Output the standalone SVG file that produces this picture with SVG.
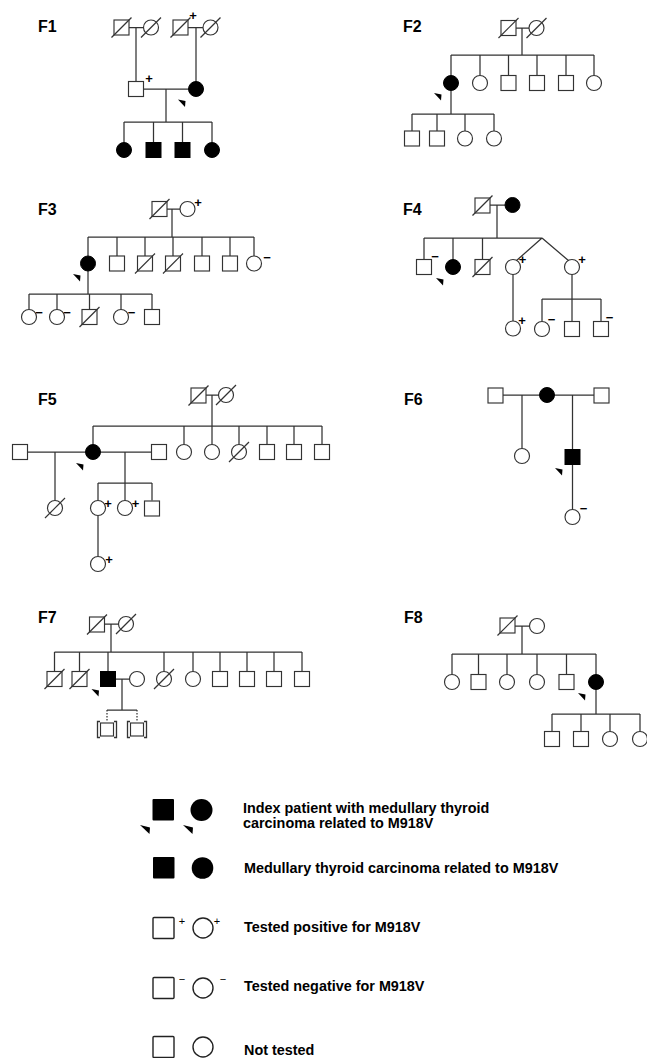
<svg xmlns="http://www.w3.org/2000/svg" xmlns:xlink="http://www.w3.org/1999/xlink" width="647" height="1058" viewBox="0 0 647 1058">
<style>
.o{fill:#fff;stroke:#333;stroke-width:1.15}
.f{fill:#000;stroke:#000;stroke-width:1}
.d{stroke:#333;stroke-width:1.15}
.ar{fill:#000}
.cn path{stroke:#333;stroke-width:1.25;fill:none}
.cn .dot{stroke-dasharray:1.5 1.5}
.lbl{font-family:"Liberation Sans",Arial,sans-serif;font-weight:bold;font-size:16px;fill:#000}
.sg{font-family:"Liberation Sans",Arial,sans-serif;font-weight:bold;font-size:13px;fill:#000;text-anchor:middle}
.ls{font-family:"Liberation Sans",Arial,sans-serif;font-size:11px;fill:#000;text-anchor:middle}
.lt{font-family:"Liberation Sans",Arial,sans-serif;font-weight:bold;font-size:14.4px;fill:#000}
.lo{fill:#fff;stroke:#222;stroke-width:1.4}
</style>
<defs>
<rect id="S" x="-7.5" y="-7.5" width="15" height="15"/>
<circle id="C" r="7.5"/>
<line id="X" x1="-10" y1="10" x2="10" y2="-10"/>
<polygon id="A" points="0,0 7.5,1.5 7,7.5"/>
</defs>

<g class="lbl">
<text x="38" y="32">F1</text>
<text x="403" y="32">F2</text>
<text x="38" y="215">F3</text>
<text x="403" y="215">F4</text>
<text x="38" y="405">F5</text>
<text x="404" y="405">F6</text>
<text x="38" y="623">F7</text>
<text x="404" y="623">F8</text>
</g>

<g id="connectors" class="cn">
<path d="M129,27.5H143.5 M136,27.5V81.5 M188,27.5H203 M196,27.5V81.5 M143.5,89H188.5 M166,89V122 M124,122H212 M124,122V142.5 M153.5,122V142.5 M182.5,122V142.5 M212,122V142.5"/>
<path d="M516,28H529 M522,28V55 M451,55H594 M451,55V75.5 M480,55V75.5 M508.5,55V75.5 M537,55V75.5 M566,55V75.5 M594,55V75.5 M451,90.5V114 M412,114H494 M412,114V131 M437,114V131 M465,114V131 M494,114V131"/>
<path d="M167,209H180 M172,209V237 M88,237H254 M88,237V256 M117,237V256 M145,237V256 M173,237V256 M202,237V256 M230,237V256 M254,237V256 M88,271V294 M29,294H152 M29,294V309.5 M57,294V309.5 M89.5,294V309.5 M121,294V309.5 M152,294V309.5"/>
<path d="M490,205H505 M497,205V238 M424,238H542 M424,238V259.5 M453,238V259.5 M482.5,238V259.5 M542,238L516,261 M542,238L569,261 M513,274.5V321 M572,274.5V299 M542,299H601 M542,299V321.5 M572,299V321.5 M601,299V321.5"/>
<path d="M206,395H218.5 M212,395V426 M93,426H322 M93,426V444.5 M184,426V444.5 M212,426V444.5 M239,426V444.5 M267,426V444.5 M294,426V444.5 M322,426V444.5 M27.5,452H85.5 M55,452V500.5 M100.5,452H151.5 M125,452V483 M98,483H152 M98,483V500.5 M125,483V500.5 M152,483V500.5 M98,515.5V556.5"/>
<path d="M503,395H539.5 M554.5,395H594 M522,395V448.5 M572.5,395V449.5 M572.5,464.5V509.5"/>
<path d="M104.5,624H118.5 M111,624V652 M54.5,652H302 M54.5,652V671.5 M79.5,652V671.5 M108,652V671.5 M164,652V671.5 M193,652V671.5 M220,652V671.5 M247,652V671.5 M274,652V671.5 M302,652V671.5 M115.5,679H129.5 M122,679V710 M107,710H137"/>
<path class="dot" d="M107,710V721 M137,710V721"/>
<path d="M515,626H529.5 M522,626V654 M452,654H596 M452,654V674.5 M478.5,654V674.5 M507,654V674.5 M537,654V674.5 M566.5,654V674.5 M596,654V674.5 M596,689.5V714 M552,714H640 M552,714V731.5 M581,714V731.5 M610,714V731.5 M640,714V731.5"/>
</g>

<!-- F1 -->
<g id="f1-gf1"><use href="#S" x="121.5" y="27.5" class="o"/><use href="#X" x="121.5" y="27.5" class="d"/></g>
<g id="f1-gm1"><use href="#C" x="151" y="27.5" class="o"/><use href="#X" x="151" y="27.5" class="d"/></g>
<g id="f1-gf2"><use href="#S" x="180.5" y="27.5" class="o"/><use href="#X" x="180.5" y="27.5" class="d"/><text class="sg" x="193" y="20">+</text></g>
<g id="f1-gm2"><use href="#C" x="210.5" y="27.5" class="o"/><use href="#X" x="210.5" y="27.5" class="d"/></g>
<g id="f1-father"><use href="#S" x="136" y="89" class="o"/><text class="sg" x="149" y="82.5">+</text></g>
<g id="f1-mother"><use href="#C" x="196" y="89" class="f"/><use href="#A" x="178" y="99.5" class="ar"/></g>
<g id="f1-c1"><use href="#C" x="124" y="150" class="f"/></g>
<g id="f1-c2"><use href="#S" x="153.5" y="150" class="f"/></g>
<g id="f1-c3"><use href="#S" x="182.5" y="150" class="f"/></g>
<g id="f1-c4"><use href="#C" x="212" y="150" class="f"/></g>

<!-- F2 -->
<g id="f2-gf"><use href="#S" x="508.5" y="28" class="o"/><use href="#X" x="508.5" y="28" class="d"/></g>
<g id="f2-gm"><use href="#C" x="536.5" y="28" class="o"/><use href="#X" x="536.5" y="28" class="d"/></g>
<g id="f2-index"><use href="#C" x="451" y="83" class="f"/><use href="#A" x="434" y="93" class="ar"/></g>
<g id="f2-s2"><use href="#C" x="480" y="83" class="o"/></g>
<g id="f2-s3"><use href="#S" x="508.5" y="83" class="o"/></g>
<g id="f2-s4"><use href="#S" x="537" y="83" class="o"/></g>
<g id="f2-s5"><use href="#S" x="566" y="83" class="o"/></g>
<g id="f2-s6"><use href="#C" x="594" y="83" class="o"/></g>
<g id="f2-g1"><use href="#S" x="412" y="138.5" class="o"/></g>
<g id="f2-g2"><use href="#S" x="437" y="138.5" class="o"/></g>
<g id="f2-g3"><use href="#C" x="465" y="138.5" class="o"/></g>
<g id="f2-g4"><use href="#C" x="494" y="138.5" class="o"/></g>

<!-- F3 -->
<g id="f3-gf"><use href="#S" x="159.5" y="209" class="o"/><use href="#X" x="159.5" y="209" class="d"/></g>
<g id="f3-gm"><use href="#C" x="187.5" y="209" class="o"/><text class="sg" x="198" y="206.5">+</text></g>
<g id="f3-index"><use href="#C" x="88" y="263.5" class="f"/><use href="#A" x="73" y="274" class="ar"/></g>
<g id="f3-s2"><use href="#S" x="117" y="263.5" class="o"/></g>
<g id="f3-s3"><use href="#S" x="145" y="263.5" class="o"/><use href="#X" x="145" y="263.5" class="d"/></g>
<g id="f3-s4"><use href="#S" x="173" y="263.5" class="o"/><use href="#X" x="173" y="263.5" class="d"/></g>
<g id="f3-s5"><use href="#S" x="202" y="263.5" class="o"/></g>
<g id="f3-s6"><use href="#S" x="230" y="263.5" class="o"/></g>
<g id="f3-s7"><use href="#C" x="254" y="263.5" class="o"/><text class="sg" x="267" y="261.5">−</text></g>
<g id="f3-g1"><use href="#C" x="29" y="317" class="o"/><text class="sg" x="39" y="316.5">−</text></g>
<g id="f3-g2"><use href="#C" x="57" y="317" class="o"/><text class="sg" x="67" y="316.5">−</text></g>
<g id="f3-g3"><use href="#S" x="89.5" y="317" class="o"/><use href="#X" x="89.5" y="317" class="d"/></g>
<g id="f3-g4"><use href="#C" x="121" y="317" class="o"/><text class="sg" x="131.5" y="316.5">−</text></g>
<g id="f3-g5"><use href="#S" x="152" y="317" class="o"/></g>

<!-- F4 -->
<g id="f4-gf"><use href="#S" x="482.5" y="205.5" class="o"/><use href="#X" x="482.5" y="205.5" class="d"/></g>
<g id="f4-gm"><use href="#C" x="512.5" y="205" class="f"/></g>
<g id="f4-s1"><use href="#S" x="424" y="267" class="o"/><text class="sg" x="435" y="260.5">−</text></g>
<g id="f4-index"><use href="#C" x="453" y="267" class="f"/><use href="#A" x="436" y="278" class="ar"/></g>
<g id="f4-s3"><use href="#S" x="482.5" y="267" class="o"/><use href="#X" x="482.5" y="267" class="d"/></g>
<g id="f4-tw1"><use href="#C" x="513" y="267" class="o"/><text class="sg" x="522.5" y="264">+</text></g>
<g id="f4-tw2"><use href="#C" x="572" y="267" class="o"/><text class="sg" x="582" y="264">+</text></g>
<g id="f4-g1"><use href="#C" x="513" y="328.5" class="o"/><text class="sg" x="522" y="325">+</text></g>
<g id="f4-g2"><use href="#C" x="542" y="329" class="o"/><text class="sg" x="551.5" y="323.5">−</text></g>
<g id="f4-g3"><use href="#S" x="572" y="329" class="o"/></g>
<g id="f4-g4"><use href="#S" x="601" y="329" class="o"/><text class="sg" x="609.5" y="321.5">−</text></g>

<!-- F5 -->
<g id="f5-gf"><use href="#S" x="198.5" y="395.5" class="o"/><use href="#X" x="198.5" y="395.5" class="d"/></g>
<g id="f5-gm"><use href="#C" x="226" y="395" class="o"/><use href="#X" x="226" y="395" class="d"/></g>
<g id="f5-sp1"><use href="#S" x="20" y="452" class="o"/></g>
<g id="f5-index"><use href="#C" x="93" y="452" class="f"/><use href="#A" x="76" y="463" class="ar"/></g>
<g id="f5-sp2"><use href="#S" x="159" y="452" class="o"/></g>
<g id="f5-s2"><use href="#C" x="184" y="452" class="o"/></g>
<g id="f5-s3"><use href="#C" x="212" y="452" class="o"/></g>
<g id="f5-s4"><use href="#C" x="239" y="452" class="o"/><use href="#X" x="239" y="452" class="d"/></g>
<g id="f5-s5"><use href="#S" x="267" y="452" class="o"/></g>
<g id="f5-s6"><use href="#S" x="294" y="452" class="o"/></g>
<g id="f5-s7"><use href="#S" x="322" y="452" class="o"/></g>
<g id="f5-c1"><use href="#C" x="55" y="508" class="o"/><use href="#X" x="55" y="508" class="d"/></g>
<g id="f5-c2"><use href="#C" x="98" y="508" class="o"/><text class="sg" x="108" y="508">+</text></g>
<g id="f5-c3"><use href="#C" x="125" y="508" class="o"/><text class="sg" x="135.5" y="508">+</text></g>
<g id="f5-c4"><use href="#S" x="152" y="508.5" class="o"/></g>
<g id="f5-gc"><use href="#C" x="98" y="564" class="o"/><text class="sg" x="109" y="563.5">+</text></g>

<!-- F6 -->
<g id="f6-h1"><use href="#S" x="495.5" y="395.5" class="o"/></g>
<g id="f6-mother"><use href="#C" x="547" y="395" class="f"/></g>
<g id="f6-h2"><use href="#S" x="601.5" y="395.5" class="o"/></g>
<g id="f6-c1"><use href="#C" x="522" y="456" class="o"/></g>
<g id="f6-index"><use href="#S" x="572.5" y="457" class="f"/><use href="#A" x="555" y="468" class="ar"/></g>
<g id="f6-gc"><use href="#C" x="572.5" y="517" class="o"/><text class="sg" x="583.5" y="512.5">−</text></g>

<!-- F7 -->
<g id="f7-gf"><use href="#S" x="97" y="624.5" class="o"/><use href="#X" x="97" y="624.5" class="d"/></g>
<g id="f7-gm"><use href="#C" x="126" y="624" class="o"/><use href="#X" x="126" y="624" class="d"/></g>
<g id="f7-s1"><use href="#S" x="54.5" y="679" class="o"/><use href="#X" x="54.5" y="679" class="d"/></g>
<g id="f7-s2"><use href="#S" x="79.5" y="679" class="o"/><use href="#X" x="79.5" y="679" class="d"/></g>
<g id="f7-index"><use href="#S" x="108" y="679" class="f"/><use href="#A" x="91.5" y="689" class="ar"/></g>
<g id="f7-spouse"><use href="#C" x="137" y="679" class="o"/></g>
<g id="f7-s4"><use href="#C" x="164" y="679" class="o"/><use href="#X" x="164" y="679" class="d"/></g>
<g id="f7-s5"><use href="#C" x="193" y="679" class="o"/></g>
<g id="f7-s6"><use href="#S" x="220" y="679" class="o"/></g>
<g id="f7-s7"><use href="#S" x="247" y="679" class="o"/></g>
<g id="f7-s8"><use href="#S" x="274" y="679" class="o"/></g>
<g id="f7-s9"><use href="#S" x="302" y="679" class="o"/></g>
<g id="f7-a1"><rect x="100.5" y="723" width="13" height="13" class="o"/><path d="M100,721.5H97.5V737.5H100 M114,721.5H116.5V737.5H114" fill="none" stroke="#333" stroke-width="1.3"/></g>
<g id="f7-a2"><rect x="130.5" y="723" width="13" height="13" class="o"/><path d="M130,721.5H127.5V737.5H130 M144,721.5H146.5V737.5H144" fill="none" stroke="#333" stroke-width="1.3"/></g>

<!-- F8 -->
<g id="f8-gf"><use href="#S" x="507.5" y="625.5" class="o"/><use href="#X" x="507.5" y="625.5" class="d"/></g>
<g id="f8-gm"><use href="#C" x="537" y="626" class="o"/></g>
<g id="f8-s1"><use href="#C" x="452" y="682" class="o"/></g>
<g id="f8-s2"><use href="#S" x="478.5" y="682" class="o"/></g>
<g id="f8-s3"><use href="#C" x="507" y="682" class="o"/></g>
<g id="f8-s4"><use href="#C" x="537" y="682" class="o"/></g>
<g id="f8-s5"><use href="#S" x="566.5" y="682" class="o"/></g>
<g id="f8-index"><use href="#C" x="596" y="682" class="f"/><use href="#A" x="578" y="693" class="ar"/></g>
<g id="f8-g1"><use href="#S" x="552" y="739" class="o"/></g>
<g id="f8-g2"><use href="#S" x="581" y="739" class="o"/></g>
<g id="f8-g3"><use href="#C" x="610" y="739" class="o"/></g>
<g id="f8-g4"><use href="#C" x="640" y="739" class="o"/></g>

<!-- Legend -->
<g id="legend-index">
<rect x="152.5" y="799" width="21.5" height="21.5" rx="1" fill="#000"/>
<circle cx="201.5" cy="810" r="11" fill="#000"/>
<polygon points="140,825 150,827.5 149.5,834" fill="#000"/>
<polygon points="183,825 193,827.5 192.5,834" fill="#000"/>
<text class="lt" x="243" y="813">Index patient with medullary thyroid</text>
<text class="lt" x="243" y="828">carcinoma related to M918V</text>
</g>
<g id="legend-mtc">
<rect x="153" y="857" width="21.5" height="21.5" rx="1" fill="#000"/>
<circle cx="202.5" cy="868" r="10.8" fill="#000"/>
<text class="lt" x="244" y="873">Medullary thyroid carcinoma related to M918V</text>
</g>
<g id="legend-pos">
<rect x="153" y="917.5" width="21" height="21" rx="1" class="lo"/>
<text class="ls" x="182" y="924.5">+</text>
<circle cx="203" cy="928" r="10" class="lo"/>
<text class="ls" x="217" y="924.5">+</text>
<text class="lt" x="244" y="932">Tested positive for M918V</text>
</g>
<g id="legend-neg">
<rect x="153" y="977.5" width="21" height="21" rx="1" class="lo"/>
<text class="ls" x="182" y="983">−</text>
<circle cx="203" cy="988" r="10" class="lo"/>
<text class="ls" x="223" y="983">−</text>
<text class="lt" x="244" y="991">Tested negative for M918V</text>
</g>
<g id="legend-nt">
<rect x="153" y="1036.5" width="21" height="21" rx="1" class="lo"/>
<circle cx="203" cy="1047" r="10" class="lo"/>
<text class="lt" x="244" y="1055">Not tested</text>
</g>
</svg>
